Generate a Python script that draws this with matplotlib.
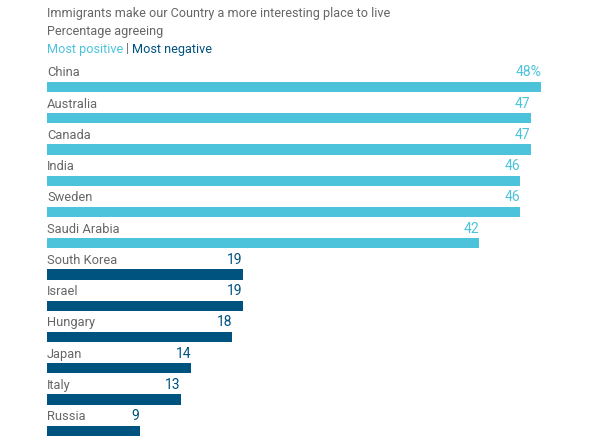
import matplotlib.pyplot as plt

countries = ["China", "Australia", "Canada", "India", "Sweden", "Saudi Arabia",
             "South Korea", "Israel", "Hungary", "Japan", "Italy", "Russia"]
values = [48, 47, 47, 46, 46, 42, 19, 19, 18, 14, 13, 9]
groups = ["pos"] * 6 + ["neg"] * 6

POS = "#4cc3db"
NEG = "#00527f"
GREY = "#666666"
FONT = "Roboto"

plt.rcParams["font.family"] = [FONT, "DejaVu Sans"]

fig = plt.figure(figsize=(6, 4.44), dpi=100)
ax = fig.add_axes([47 / 600, 0, 494 / 600, 1])

bar_h = 0.33
for i, (c, v, g) in enumerate(zip(countries, values, groups)):
    col = POS if g == "pos" else NEG
    ax.barh(i, v, height=bar_h, color=col, left=0)
    ax.text(0, i - bar_h / 2 - 0.08, c, ha="left", va="bottom",
            fontsize=9.3, color=GREY)
    lab = f"{v}%" if i == 0 else str(v)
    ax.text(v, i - bar_h / 2 - 0.08, lab, ha="right", va="bottom",
            fontsize=10, color=col)

ax.set_xlim(0, 48)
ax.set_ylim(11.42, -2.78)
ax.axis("off")

TS = 9.1
fig.text(47 / 600, 1 - 14 / 444, "Immigrants make our Country a more interesting place to live",
         ha="left", va="center", fontsize=TS, color=GREY)
fig.text(47 / 600, 1 - 31 / 444, "Percentage agreeing",
         ha="left", va="center", fontsize=TS, color=GREY)
t1 = fig.text(47 / 600, 1 - 49 / 444, "Most positive", ha="left", va="center",
              fontsize=TS, color=POS)
fig.canvas.draw()
r = fig.canvas.get_renderer()
bb = t1.get_window_extent(r)
t2 = fig.text(bb.x1 / 600 + 3 / 600, 1 - 49 / 444, "|", ha="left", va="center",
              fontsize=TS, color=GREY)
bb2 = t2.get_window_extent(r)
fig.text(bb2.x1 / 600 + 3 / 600, 1 - 49 / 444, "Most negative", ha="left", va="center",
         fontsize=TS, color=NEG)

fig.savefig("out.png", dpi=100)
